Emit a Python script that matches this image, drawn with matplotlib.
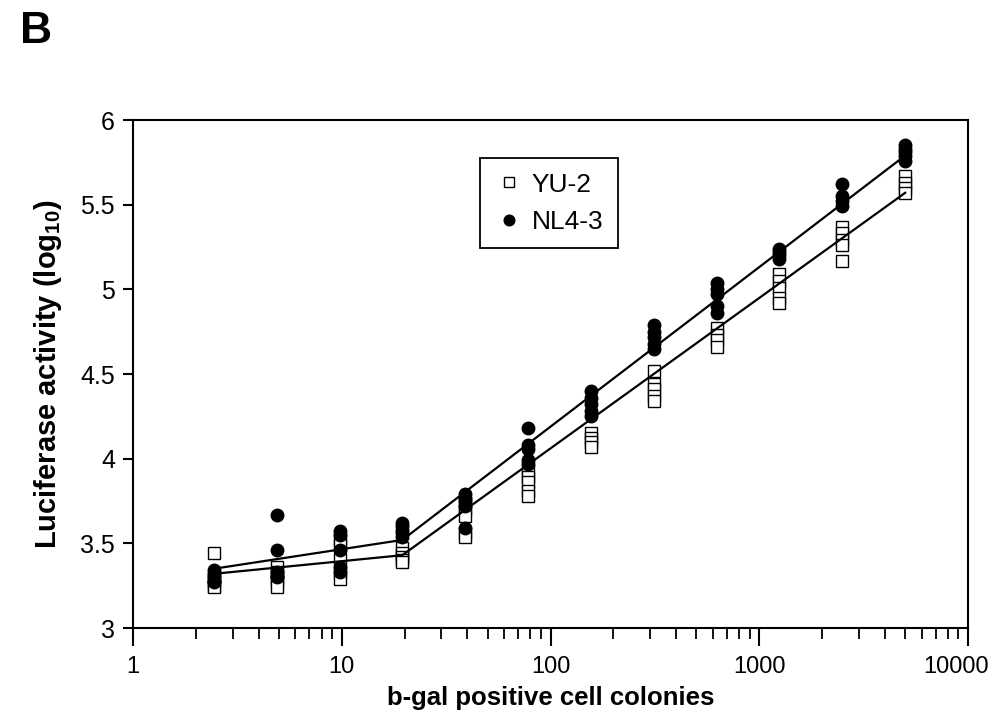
import numpy as np
import matplotlib
matplotlib.use('Agg')
import matplotlib.pyplot as plt
import matplotlib.transforms as mtransforms
from matplotlib.ticker import FixedLocator, LogLocator, NullFormatter

plt.rcParams['font.family'] = ['Liberation Sans', 'DejaVu Sans']
plt.rcParams['mathtext.fontset'] = 'custom'
plt.rcParams['mathtext.rm'] = 'Liberation Sans'
plt.rcParams['mathtext.bf'] = 'Liberation Sans:bold'

# colony numbers (two-fold dilution series)
colonies = [2.44, 4.88, 9.77, 19.5, 39, 78, 156, 312, 625, 1250, 2500, 5000]

# replicate luciferase readings (log10) per dilution
yu2 = [
    [3.44, 3.30, 3.27, 3.25, 3.24],
    [3.36, 3.33, 3.30, 3.27, 3.24],
    [3.52, 3.49, 3.41, 3.33, 3.29],
    [3.47, 3.44, 3.42, 3.40, 3.39],
    [3.74, 3.70, 3.66, 3.56, 3.54],
    [3.93, 3.89, 3.86, 3.81, 3.78],
    [4.15, 4.12, 4.10, 4.07],
    [4.52, 4.44, 4.41, 4.37, 4.34],
    [4.77, 4.73, 4.70, 4.66],
    [5.09, 5.05, 5.01, 4.95, 4.92],
    [5.37, 5.33, 5.29, 5.26, 5.17],
    [5.67, 5.63, 5.60, 5.57],
]
nl43 = [
    [3.34, 3.32, 3.30, 3.28, 3.27],
    [3.67, 3.46, 3.33, 3.31, 3.30],
    [3.57, 3.55, 3.46, 3.36, 3.33],
    [3.62, 3.60, 3.58, 3.56, 3.54],
    [3.79, 3.77, 3.75, 3.72, 3.59],
    [4.18, 4.08, 4.06, 3.99, 3.97],
    [4.40, 4.36, 4.32, 4.28, 4.25],
    [4.79, 4.75, 4.72, 4.68, 4.65],
    [5.04, 5.00, 4.97, 4.90, 4.86],
    [5.24, 5.22, 5.20, 5.18],
    [5.62, 5.55, 5.52, 5.49],
    [5.85, 5.83, 5.81, 5.79, 5.76],
]

# fitted two-segment lines (break at 19.5 colonies)
fit_x = [2.44, 19.5, 5000]
yu2_fit = [3.32, 3.43, 5.57]
nl43_fit = [3.35, 3.52, 5.79]

y_ticks = [3, 3.5, 4, 4.5, 5, 5.5, 6]
x_ticks = [1, 10, 100, 1000, 10000]
x_ticklabels = ['1', '10', '100', '1000', '10000']


def flatten(groups):
    xs, ys = [], []
    for x, vals in zip(colonies, groups):
        xs += [x] * len(vals)
        ys += vals
    return xs, ys


fig = plt.figure(figsize=(10, 7.16), dpi=100, facecolor='white')
ax = fig.add_axes([0.133, 0.1229, 0.835, 0.7095])

xs, ys = flatten(yu2)
ax.plot(xs, ys, linestyle='none', marker='s', markersize=8,
        markerfacecolor='white', markeredgecolor='black', markeredgewidth=1.0,
        label='YU-2', zorder=3)
xs, ys = flatten(nl43)
ax.plot(xs, ys, linestyle='none', marker='o', markersize=9,
        markerfacecolor='black', markeredgecolor='black',
        label='NL4-3', zorder=4)

ax.plot(fit_x, yu2_fit, color='black', linewidth=1.6, zorder=5)
ax.plot(fit_x, nl43_fit, color='black', linewidth=1.6, zorder=5)

ax.set_xscale('log')
ax.set_xlim(1, 10000)
ax.set_ylim(3, 6)
ax.yaxis.set_major_locator(FixedLocator(y_ticks))
ax.set_yticklabels(['%g' % t for t in y_ticks])
ax.xaxis.set_major_locator(FixedLocator(x_ticks))
ax.set_xticklabels(x_ticklabels)
ax.xaxis.set_minor_locator(LogLocator(base=10, subs=np.arange(2, 10)))
ax.xaxis.set_minor_formatter(NullFormatter())

ax.tick_params(axis='y', which='major', direction='out', length=7, width=1.5,
               labelsize=18, pad=6)
ax.tick_params(axis='x', which='major', direction='out', length=13, width=1.5,
               labelsize=17, pad=7)
ax.tick_params(axis='x', which='minor', direction='out', length=8, width=1.3)

# nudge the last x label so it stays inside the figure
last = ax.get_xticklabels()[-1]
last.set_transform(last.get_transform() +
                   mtransforms.ScaledTranslation(-0.12, 0, fig.dpi_scale_trans))

for s in ax.spines.values():
    s.set_linewidth(1.5)

ax.set_xlabel('b-gal positive cell colonies', fontsize=18.5, fontweight='bold',
              labelpad=6)
ax.set_ylabel(r'Luciferase activity (log$_{\mathbf{10}}$)', fontsize=21,
              fontweight='bold', labelpad=12)

leg = ax.legend(loc='upper left', bbox_to_anchor=(0.4156, 0.925),
                borderaxespad=0, fancybox=False, framealpha=1, fontsize=19,
                handletextpad=0.3, handlelength=1.1, borderpad=0.55,
                labelspacing=0.5, markerscale=0.85)
leg.get_frame().set_edgecolor('black')
leg.get_frame().set_linewidth(1.3)

fig.text(0.02, 0.94, 'B', fontsize=32, fontweight='bold')

fig.savefig('out.png', dpi=100, facecolor='white')
